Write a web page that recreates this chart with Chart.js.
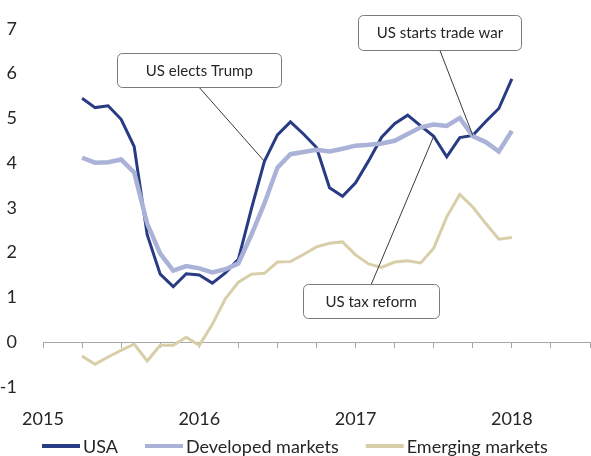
<!DOCTYPE html>
<html>
<head>
<meta charset="utf-8">
<script src="https://cdn.jsdelivr.net/npm/chart.js@4/dist/chart.umd.min.js"></script>
<style>
  html, body { margin: 0; padding: 0; background: #ffffff; }
  #wrap { width: 591px; height: 456px; }
  canvas { display: block; }
</style>
</head>
<body>
<div id="wrap"><canvas id="chart" width="591" height="456"></canvas></div>
<script>
// Monthly observations, April 2015 to January 2018
const months = [
  '2015-04', '2015-05', '2015-06', '2015-07', '2015-08', '2015-09', '2015-10', '2015-11', '2015-12',
  '2016-01', '2016-02', '2016-03', '2016-04', '2016-05', '2016-06', '2016-07', '2016-08', '2016-09',
  '2016-10', '2016-11', '2016-12',
  '2017-01', '2017-02', '2017-03', '2017-04', '2017-05', '2017-06', '2017-07', '2017-08', '2017-09',
  '2017-10', '2017-11', '2017-12',
  '2018-01'
];

const usa = [
  5.45, 5.24, 5.28, 4.98, 4.37, 2.40, 1.52, 1.24, 1.53,
  1.50, 1.32, 1.55, 1.85, 2.98, 4.04, 4.63, 4.92, 4.65, 4.35, 3.45, 3.26,
  3.56, 4.05, 4.58, 4.88, 5.07, 4.83, 4.60, 4.14, 4.57, 4.62, 4.93, 5.22,
  5.88
];

const developed = [
  4.12, 4.01, 4.02, 4.08, 3.79, 2.65, 1.98, 1.60, 1.70,
  1.65, 1.56, 1.63, 1.76, 2.40, 3.10, 3.90, 4.20, 4.25, 4.30, 4.26, 4.32,
  4.39, 4.41, 4.44, 4.50, 4.65, 4.80, 4.86, 4.83, 5.01, 4.60, 4.47, 4.26,
  4.72
];

const emerging = [
  -0.31, -0.49, -0.33, -0.18, -0.04, -0.42, -0.07, -0.07, 0.11,
  -0.07, 0.40, 0.97, 1.34, 1.52, 1.54, 1.79, 1.80, 1.96, 2.13, 2.21, 2.24,
  1.95, 1.75, 1.67, 1.79, 1.82, 1.77, 2.10, 2.80, 3.30, 3.02, 2.65, 2.30,
  2.34
];

const seriesNames = ['USA', 'Developed markets', 'Emerging markets'];
const yearLabels = [2015, 2016, 2017, 2018];
const yMin = -1, yMax = 7;
const xMin = 2015, xMax = 2018.5;

// Event callouts: text and the series point the leader line points at
const events = [
  { text: 'US elects Trump',     series: 0, month: '2016-06' },
  { text: 'US starts trade war', series: 0, month: '2017-10' },
  { text: 'US tax reform',       series: 0, month: '2017-07' }
];
// Callout box centres (year, value) and sizes in pixels
const calloutBoxes = [
  { x: 2016.00, y: 6.07, w: 164, h: 34 },
  { x: 2017.54, y: 6.92, w: 163, h: 35 },
  { x: 2017.10, y: 0.92, w: 136, h: 34 }
];

const FONT = 'Lato, "Open Sans", "DejaVu Sans", sans-serif';
const TEXT = '#262626';
const colors = ['#283c84', '#aab2d8', '#d8cfa9'];
const widths = [3, 4.5, 3];

function monthToYear(m) {
  const [y, mo] = m.split('-').map(Number);
  return y + (mo - 1) / 12;
}
const xs = months.map(monthToYear);
const toPoints = vals => vals.map((v, i) => ({ x: xs[i], y: v }));

const seriesValues = [usa, developed, emerging];

const calloutPlugin = {
  id: 'callouts',
  afterDatasetsDraw(chart) {
    const { ctx, scales } = chart;
    const xs_ = scales.x, ys_ = scales.y;
    ctx.save();
    events.forEach((ev, k) => {
      const box = calloutBoxes[k];
      const idx = months.indexOf(ev.month);
      const pt = chart.getDatasetMeta(ev.series).data[idx];
      const cx = xs_.getPixelForValue(box.x);
      const cy = ys_.getPixelForValue(box.y);
      const left = Math.round(cx - box.w / 2) + 0.5;
      const top = Math.round(cy - box.h / 2) + 0.5;
      const startY = pt.y > cy ? top + box.h : top;
      // leader line
      ctx.beginPath();
      ctx.strokeStyle = '#3a3a3a';
      ctx.lineWidth = 1;
      ctx.moveTo(cx, startY);
      ctx.lineTo(pt.x, pt.y);
      ctx.stroke();
      // rounded box
      const r = 5;
      ctx.beginPath();
      ctx.moveTo(left + r, top);
      ctx.lineTo(left + box.w - r, top);
      ctx.arcTo(left + box.w, top, left + box.w, top + r, r);
      ctx.lineTo(left + box.w, top + box.h - r);
      ctx.arcTo(left + box.w, top + box.h, left + box.w - r, top + box.h, r);
      ctx.lineTo(left + r, top + box.h);
      ctx.arcTo(left, top + box.h, left, top + box.h - r, r);
      ctx.lineTo(left, top + r);
      ctx.arcTo(left, top, left + r, top, r);
      ctx.closePath();
      ctx.fillStyle = '#ffffff';
      ctx.fill();
      ctx.strokeStyle = '#7a7a7a';
      ctx.stroke();
      // text
      ctx.fillStyle = TEXT;
      ctx.font = '15px ' + FONT;
      ctx.textAlign = 'center';
      ctx.textBaseline = 'middle';
      ctx.fillText(ev.text, cx, cy + 1);
    });
    ctx.restore();
  }
};

const legendPlugin = {
  id: 'lineLegend',
  afterDraw(chart) {
    const { ctx, chartArea } = chart;
    const y = chartArea.bottom + 59;
    const lineLen = 38, gap = 3, spacing = 27;
    ctx.save();
    ctx.font = '18px ' + FONT;
    ctx.textBaseline = 'middle';
    ctx.textAlign = 'left';
    let x = chartArea.left - 1;
    chart.data.datasets.forEach(ds => {
      ctx.beginPath();
      ctx.strokeStyle = ds.borderColor;
      ctx.lineWidth = 4;
      ctx.lineCap = 'butt';
      ctx.moveTo(x, y);
      ctx.lineTo(x + lineLen, y);
      ctx.stroke();
      x += lineLen + gap;
      ctx.fillStyle = TEXT;
      ctx.fillText(ds.label, x, y + 1);
      x += ctx.measureText(ds.label).width + spacing;
    });
    ctx.restore();
  }
};

new Chart(document.getElementById('chart'), {
  type: 'line',
  data: {
    datasets: seriesValues.map((vals, i) => ({
      label: seriesNames[i],
      data: toPoints(vals),
      borderColor: colors[i],
      backgroundColor: colors[i],
      borderWidth: widths[i],
      pointRadius: 0,
      tension: 0,
      xAxisID: 'x',
      yAxisID: 'y',
      order: 3 - i
    }))
  },
  options: {
    responsive: false,
    animation: false,
    devicePixelRatio: 1,
    layout: { padding: { top: 22, right: 1, bottom: 29, left: 0 } },
    plugins: {
      legend: { display: false },
      tooltip: { enabled: false }
    },
    scales: {
      x: {
        type: 'linear',
        position: { y: 0 },
        min: xMin,
        max: xMax,
        grid: { display: true, drawOnChartArea: false, drawTicks: true, tickLength: 5, tickColor: '#a6a6a6' },
        border: { display: true, color: '#a6a6a6', width: 1 },
        ticks: { display: false, stepSize: 0.25, autoSkip: false }
      },
      x2: {
        type: 'linear',
        position: 'bottom',
        min: xMin,
        max: xMax,
        grid: { display: false },
        border: { display: false },
        afterBuildTicks: s => { s.ticks = yearLabels.map(v => ({ value: v })); },
        afterFit: s => { s.height = 40; },
        ticks: {
          autoSkip: false,
          maxRotation: 0,
          padding: 13,
          color: TEXT,
          font: { family: FONT, size: 18 },
          callback: v => String(v)
        }
      },
      y: {
        type: 'linear',
        min: yMin,
        max: yMax,
        grid: { display: false },
        border: { display: false },
        afterFit: s => { s.width = 43; },
        ticks: {
          stepSize: 1,
          padding: 18,
          color: TEXT,
          font: { family: FONT, size: 18 }
        }
      }
    }
  },
  plugins: [calloutPlugin, legendPlugin]
});
</script>
</body>
</html>
